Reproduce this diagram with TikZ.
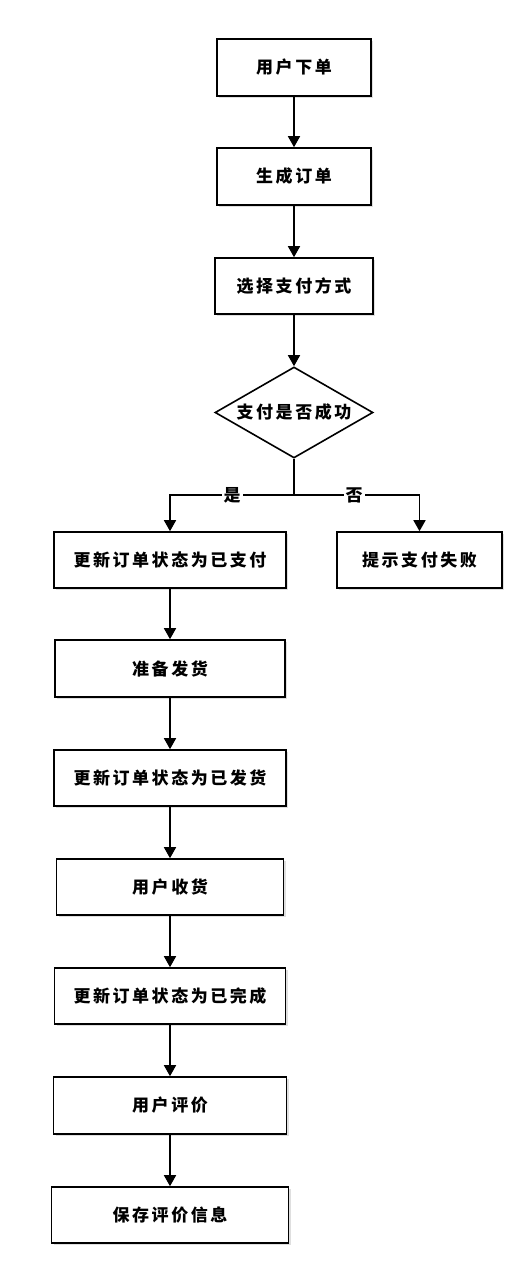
\documentclass[tikz,border=0pt]{standalone}
\usepackage{fontspec}
\newfontfamily\cjk{Noto Sans CJK SC}[LetterSpace=15]
\usetikzlibrary{shapes.geometric,arrows.meta,shadows}

\begin{document}
\begin{tikzpicture}
        [x=1pt, y=-1pt,
        box/.style={rectangle, draw, line width=1.6pt, fill=white, inner sep=0pt,
            drop shadow={shadow xshift=2pt, shadow yshift=-2pt, opacity=0.25},
            font=\cjk\bfseries\fontsize{17}{20}\selectfont},
        decision/.style={diamond, draw, line width=1.6pt, fill=white, inner sep=0pt,
            shape aspect=1.74, minimum width=158pt, minimum height=91pt,
            font=\cjk\bfseries\fontsize{17}{20}\selectfont},
        arrow/.style={line width=1.6pt, -{Triangle[width=12pt, length=11pt]}},
        edge/.style={line width=1.6pt},
        lbl/.style={fill=white, inner sep=2pt, font=\cjk\bfseries\fontsize{17}{20}\selectfont}]

        \useasboundingbox (0,0) rectangle (532,1271);

        \node[box, minimum width=154pt, minimum height=57pt] (order) at (294,67.5) {用户下单};
        \node[box, minimum width=154pt, minimum height=57pt] (create) at (294,176.5) {生成订单};
        \node[box, minimum width=158pt, minimum height=56pt] (choose) at (294,286) {选择支付方式};
        \node[decision] (check) at (294,412.5) {支付是否成功};
        \coordinate (split) at (294,495);

        \node[box, minimum width=232pt, minimum height=56pt] (paid) at (170,560) {更新订单状态为已支付};
        \node[box, minimum width=165pt, minimum height=56pt] (fail) at (419.5,560) {提示支付失败};
        \node[box, minimum width=230pt, minimum height=57pt] (ship) at (170,668.5) {准备发货};
        \node[box, minimum width=232pt, minimum height=56pt] (shipped) at (170,778) {更新订单状态为已发货};
        \node[box, minimum width=227pt, minimum height=56pt] (receive) at (170,887) {用户收货};
        \node[box, minimum width=231pt, minimum height=56pt] (done) at (170,996) {更新订单状态为已完成};
        \node[box, minimum width=233pt, minimum height=57pt] (review) at (170,1105.5) {用户评价};
        \node[box, minimum width=237pt, minimum height=56pt] (save) at (170,1215) {保存评价信息};

        \draw[arrow] (order) -- (create);
        \draw[arrow] (create) -- (choose);
        \draw[arrow] (choose) -- (check);
        \draw[edge] (check) -- (split);
        \draw[arrow] (split) -| node[pos=0.25, lbl] (yes) {是} (paid);
        \draw[arrow] (split) -| node[pos=0.24, lbl] (no) {否} (fail);
        \draw[arrow] (paid) -- (ship);
        \draw[arrow] (ship) -- (shipped);
        \draw[arrow] (shipped) -- (receive);
        \draw[arrow] (receive) -- (done);
        \draw[arrow] (done) -- (review);
        \draw[arrow] (review) -- (save);

    \end{tikzpicture}
\end{document}
